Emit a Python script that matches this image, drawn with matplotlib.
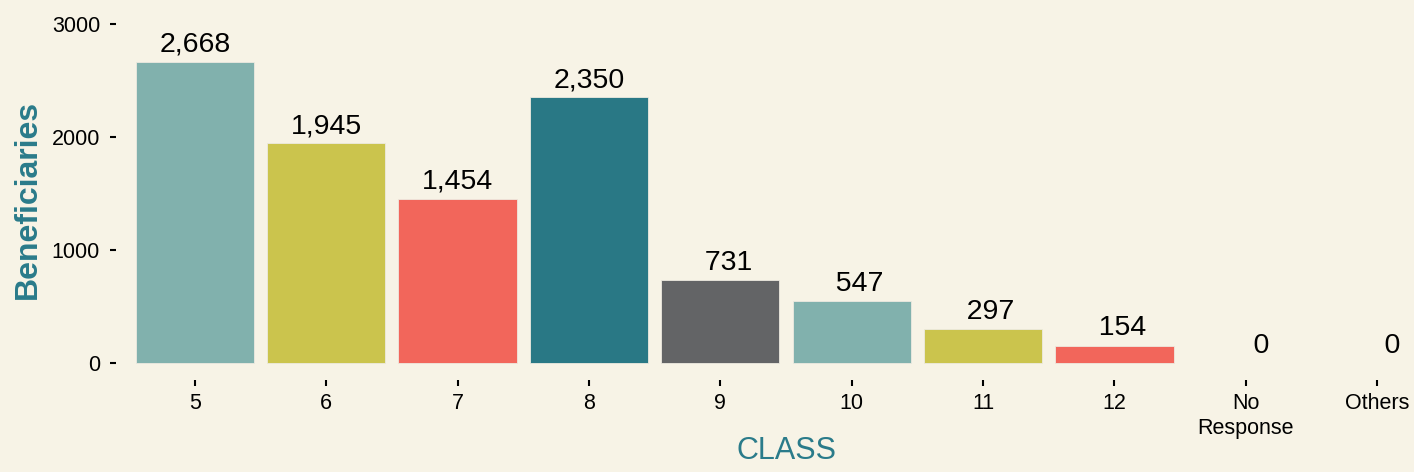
import numpy as np
import matplotlib
matplotlib.use('Agg')
import matplotlib.pyplot as plt

# Data
classes = ['5', '6', '7', '8', '9', '10', '11', '12', 'No\nResponse', 'Others']
beneficiaries = [2668, 1945, 1454, 2350, 731, 547, 297, 154, 0, 0]
bar_colors = ['#81B1AD', '#CBC44D', '#F2665B', '#297885', '#636466',
              '#81B1AD', '#CBC44D', '#F2665B', '#297885', '#636466']

bg = '#F7F3E6'
teal = '#2A7B8A'
plt.rcParams['font.family'] = ['Liberation Sans', 'DejaVu Sans']

fig = plt.figure(figsize=(14.14, 4.72), dpi=100, facecolor=bg)
# panel extends a little past the right edge, like the source
ax = fig.add_axes([116 / 1414, 92 / 472, (1456 - 116) / 1414, (380 - 18.35) / 472])
ax.set_facecolor(bg)

x = np.arange(1, len(classes) + 1)
edge_w = [0.6 if v > 0 else 0 for v in beneficiaries]
ax.bar(x, beneficiaries, width=0.9, color=bar_colors, edgecolor='#EDEAE0', linewidth=edge_w)

# labels padded to common width (leading spaces shift them right)
labels = [format(v, ',').rjust(5) for v in beneficiaries]
for xi, v, lab in zip(x, beneficiaries, labels):
    ax.annotate(lab, (xi, v), xytext=(0, 3), textcoords='offset points',
                ha='center', va='bottom', fontsize=20.5, color='black')

ax.set_xlim(0.4, 10.6)
ax.set_ylim(-150, 3050)
ax.set_yticks([0, 1000, 2000, 3000])
ax.set_xticks(x)
ax.set_xticklabels(classes, linespacing=1.25)
for s in ax.spines.values():
    s.set_visible(False)
ax.tick_params(axis='both', length=4.5, width=1.5, color='black', labelsize=15.5, pad=5)
ax.tick_params(axis='y', pad=7)

ax.set_ylabel('Beneficiaries', fontsize=23, fontweight='bold', color=teal, labelpad=6)
# x title placed by hand near the bottom edge
fig.text(786 / 1414, 6 / 472, 'CLASS', fontsize=22, color=teal, ha='center', va='bottom')

fig.savefig('out.png', dpi=100, facecolor=bg)
